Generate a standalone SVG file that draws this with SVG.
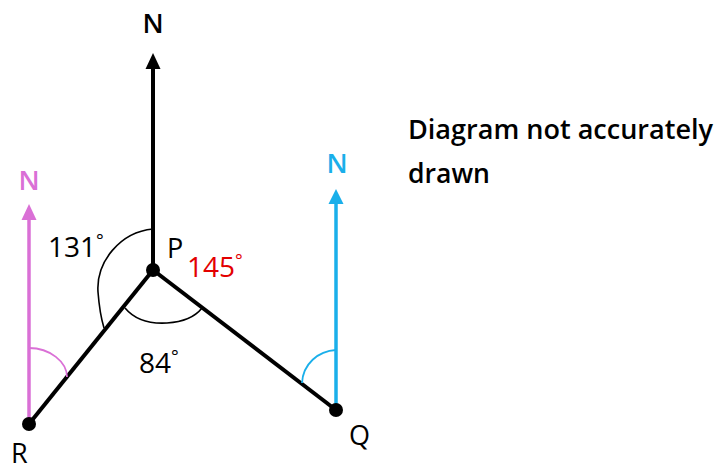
<svg xmlns="http://www.w3.org/2000/svg" width="719" height="470" viewBox="0 0 719 470">
<style>
  text { font-family: "Open Sans", "Noto Sans", sans-serif; }
  .lbl { font-size: 27px; font-weight: 600; text-anchor: middle; }
  .pt { font-size: 27px; font-weight: 400; }
  .num { font-size: 28px; font-weight: 400; }
  .deg { font-size: 18px; }
  .note { font-size: 27px; font-weight: 600; fill: #000; }
  .arc { fill: none; stroke: #000; stroke-width: 1.6; }
  .dot { fill: #000; }
</style>
<rect width="719" height="470" fill="#fff"/>
<g id="connectors">
  <line x1="153" y1="270" x2="153" y2="66" stroke="#000" stroke-width="4"/>
  <polygon points="153,53 145.5,69 160.5,69" fill="#000"/>
  <line x1="29" y1="424" x2="29" y2="218" stroke="#DA70D6" stroke-width="3.5"/>
  <polygon points="29,204 21.5,220 36.5,220" fill="#DA70D6"/>
  <line x1="336" y1="410" x2="336" y2="202" stroke="#1AAFEA" stroke-width="3.5"/>
  <polygon points="336,189 328.5,204 343.5,204" fill="#1AAFEA"/>
  <line x1="153" y1="270" x2="29" y2="424" stroke="#000" stroke-width="4"/>
  <line x1="153" y1="270" x2="336" y2="410" stroke="#000" stroke-width="4"/>
  <path class="arc" d="M153,229 C120,232 96,262 98,292 C99,305 101,318 104,328"/>
  <path class="arc" d="M125,308 C135,320 150,324 167,323 C182,322 195,317 202,308"/>
  <path d="M29,348 C50,348 67,362 67,377" fill="none" stroke="#DA70D6" stroke-width="1.8"/>
  <path d="M336,350 C318,351 303,364 302,383" fill="none" stroke="#1AAFEA" stroke-width="1.8"/>
</g>
<g id="node-N-top"><text class="lbl" x="153" y="33">N</text></g>
<g id="node-N-R"><text class="lbl" x="29" y="190" fill="#DA70D6">N</text></g>
<g id="node-N-Q"><text class="lbl" x="337" y="173" fill="#1AAFEA">N</text></g>
<g id="node-P">
  <circle class="dot" cx="153" cy="270" r="7"/>
  <text class="pt" x="167" y="258">P</text>
</g>
<g id="node-R">
  <circle class="dot" cx="29" cy="424" r="7"/>
  <text class="pt" x="11" y="463">R</text>
</g>
<g id="node-Q">
  <circle class="dot" cx="336" cy="410" r="7"/>
  <text class="pt" x="349" y="445">Q</text>
</g>
<g id="angle-labels">
  <text class="num" x="48" y="257">131<tspan class="deg" dy="-10">°</tspan></text>
  <text class="num" x="187" y="277" fill="#E30000">145<tspan class="deg" dy="-10">°</tspan></text>
  <text class="num" x="139" y="373">84<tspan class="deg" dy="-10">°</tspan></text>
</g>
<g id="note">
  <text class="note" x="408" y="139" textLength="305" lengthAdjust="spacingAndGlyphs">Diagram not accurately</text>
  <text class="note" x="408" y="183" textLength="82" lengthAdjust="spacingAndGlyphs">drawn</text>
</g>
</svg>
